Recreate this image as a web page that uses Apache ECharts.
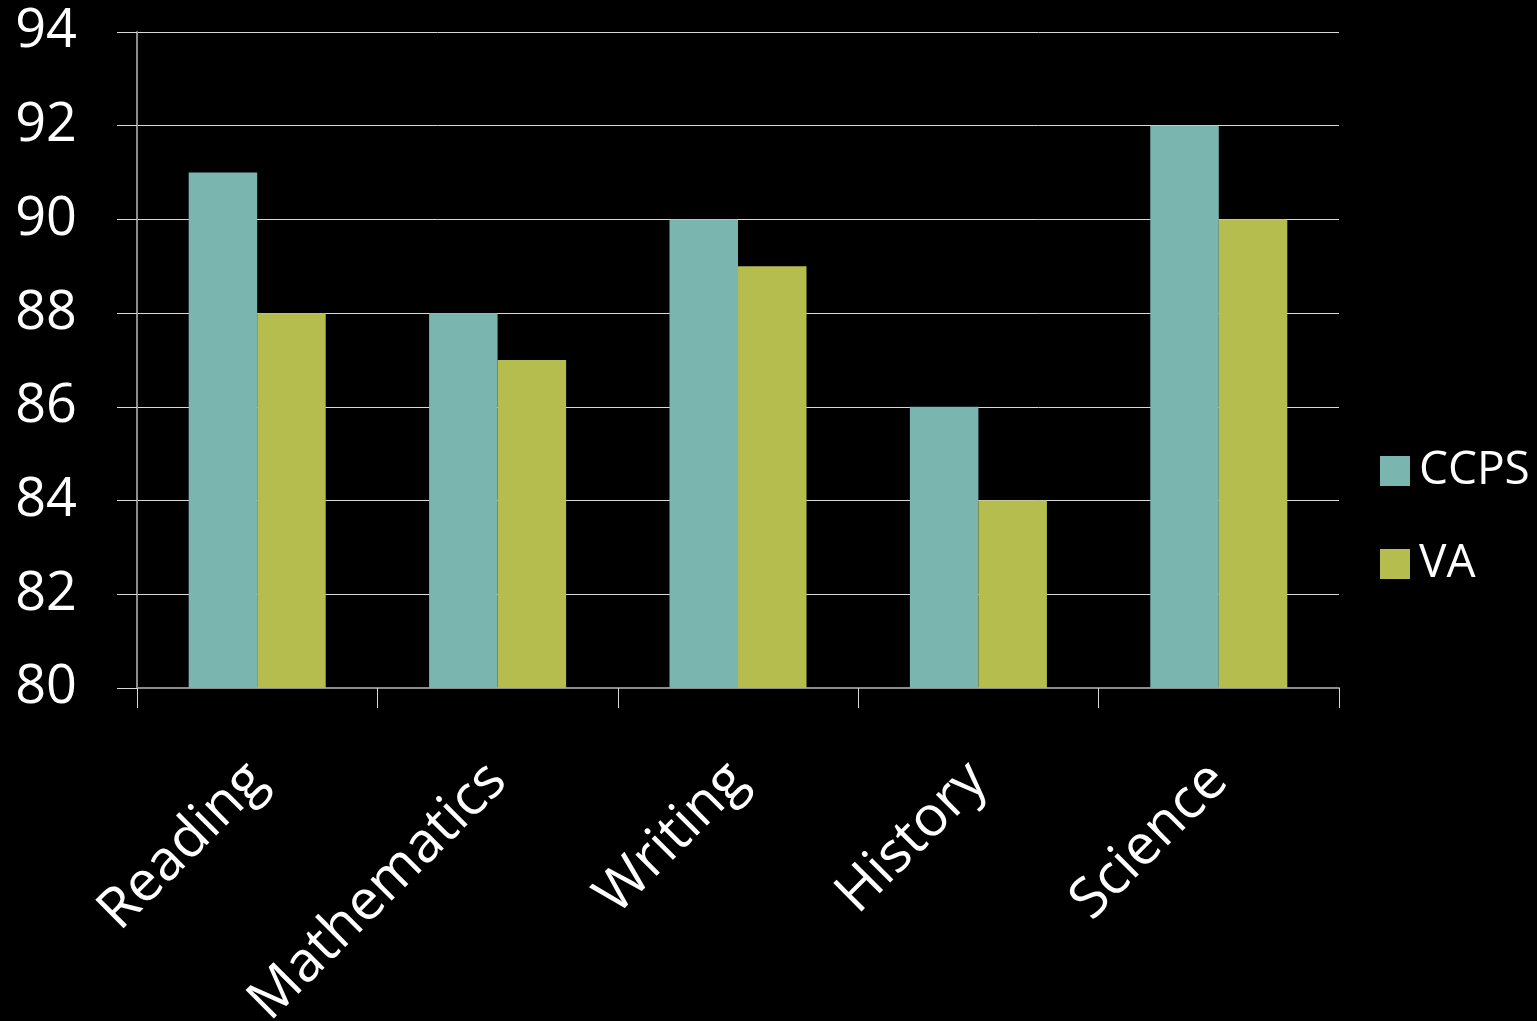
<!DOCTYPE html>
<html>
<head>
<meta charset="utf-8">
<script src="https://cdn.jsdelivr.net/npm/echarts@6/dist/echarts.min.js"></script>
<style>html,body{margin:0;padding:0;background:#000;}#c{width:1537px;height:1021px;}</style>
</head>
<body>
<div id="c"></div>
<script>
const categories = ['Reading', 'Mathematics', 'Writing', 'History', 'Science'];
const ccps = [91, 88, 90, 86, 92];
const va = [88, 87, 89, 84, 90];
const seriesNames = ['CCPS', 'VA'];

const font = '"Open Sans", Lato, sans-serif';
const chart = echarts.init(document.getElementById('c'));
chart.setOption({
  backgroundColor: '#000',
  animation: false,
  textStyle: { fontFamily: font },
  grid: { left: 137, right: 198, top: 32, bottom: 333, containLabel: false, outerBoundsMode: 'none' },
  legend: {
    orient: 'vertical',
    left: 1375,
    top: 443,
    itemWidth: 30,
    itemHeight: 30,
    itemGap: 47,
    icon: 'rect',
    textStyle: { color: '#fff', fontSize: 46, lineHeight: 30, fontFamily: font, padding: [0, 0, 0, 4] },
    data: seriesNames
  },
  xAxis: {
    type: 'category',
    data: categories,
    axisLine: { show: true, lineStyle: { color: '#8c8c8c', width: 2 } },
    axisTick: { show: true, length: 20, lineStyle: { color: '#d9d9d9', width: 1 } },
    axisLabel: { rotate: 45, margin: 84, color: '#fff', fontSize: 56, fontFamily: font }
  },
  yAxis: {
    type: 'value',
    min: 80,
    max: 94,
    interval: 2,
    axisLine: { show: true, lineStyle: { color: '#8c8c8c', width: 2 } },
    axisTick: { show: true, length: 20, lineStyle: { color: '#d9d9d9', width: 1 } },
    splitLine: { show: true, lineStyle: { color: '#d9d9d9', width: 1 } },
    axisLabel: { color: '#fff', fontSize: 54, fontFamily: font, margin: 60 }
  },
  series: [
    {
      name: seriesNames[0], type: 'bar', data: ccps,
      barGap: '0%', barCategoryGap: '43%',
      itemStyle: { color: '#7ab5af' }
    },
    {
      name: seriesNames[1], type: 'bar', data: va,
      barGap: '0%', barCategoryGap: '43%',
      itemStyle: { color: '#b5bd4f' }
    }
  ]
});
</script>
</body>
</html>
